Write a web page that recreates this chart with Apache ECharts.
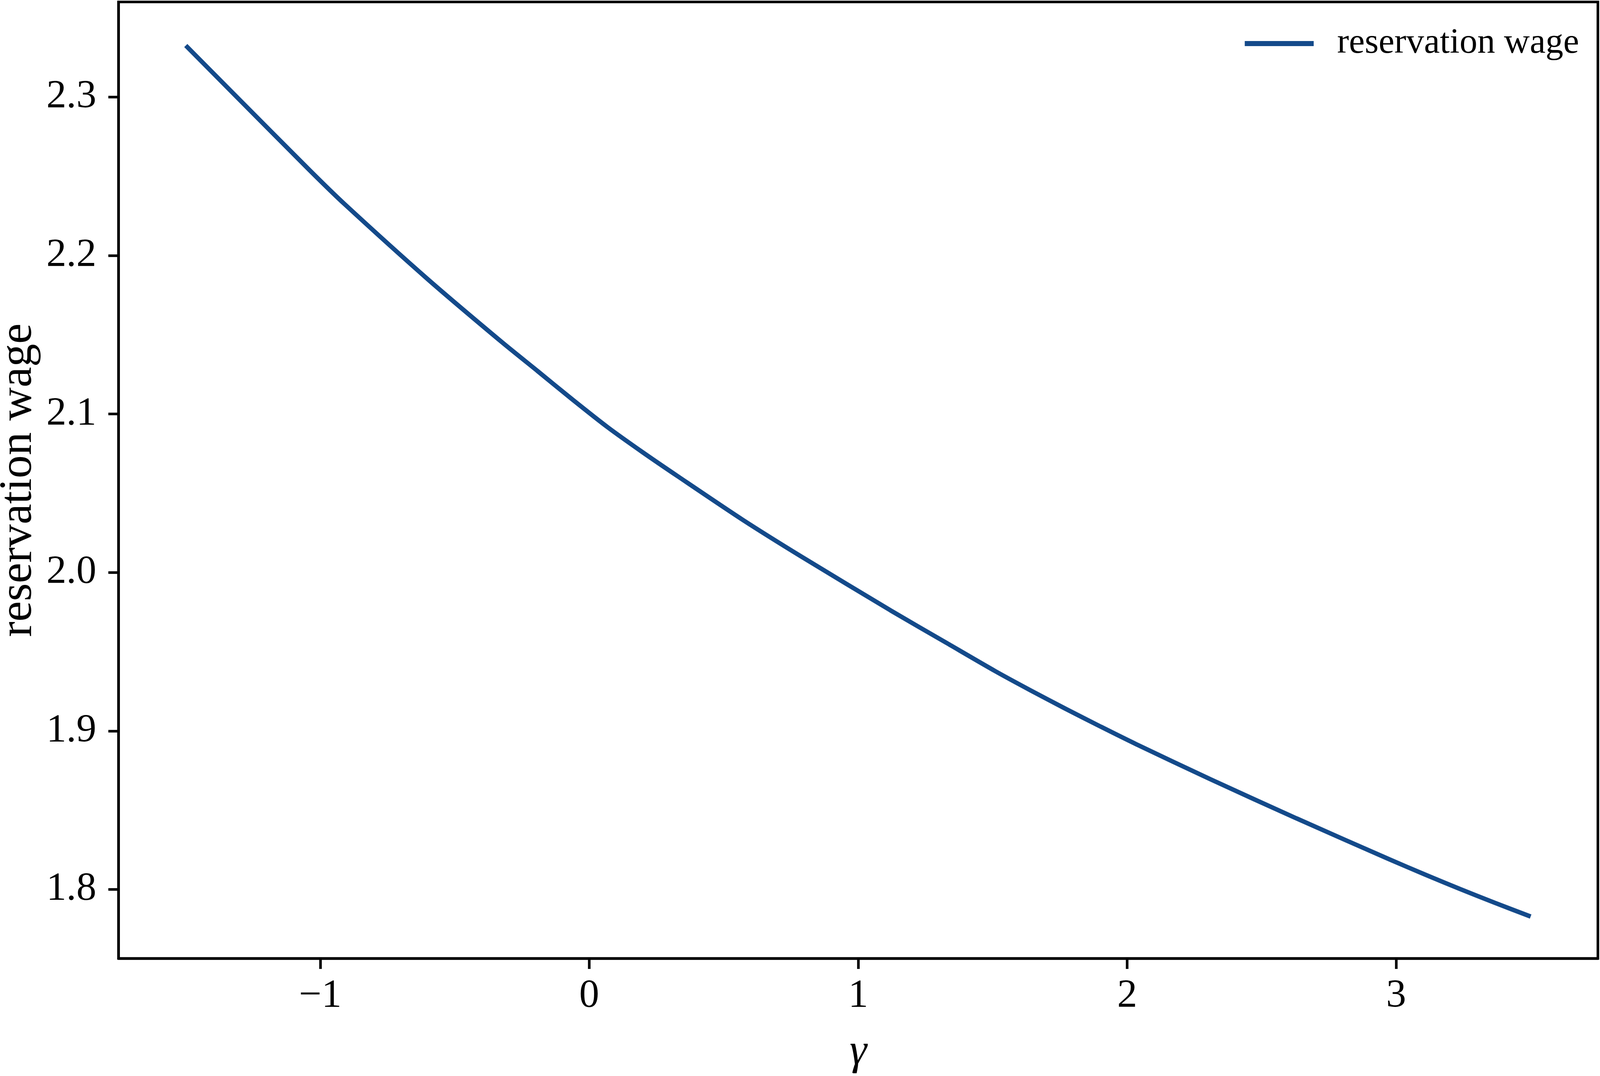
<!DOCTYPE html>
<html>
<head>
<meta charset="utf-8">
<script src="https://cdn.jsdelivr.net/npm/echarts@6/dist/echarts.min.js"></script>
<style>
html,body{margin:0;padding:0;background:#fff;overflow:hidden;}
#chart{width:100vw;height:100vh;}
</style>
</head>
<body>
<div id="chart"></div>
<script>
// values
var gamma = [-1.5, -1.32, -1.04, -0.91, -0.6, -0.323, -0.192, -0.062, 0.069, 0.2, 0.331, 0.57, 0.79, 1.12, 1.33, 1.509, 1.64, 1.771, 1.902, 2.033, 2.31, 2.63, 2.975, 3.106, 3.237, 3.368, 3.5];
var wage  = [2.3325, 2.3017, 2.2539, 2.2325, 2.1850, 2.1451, 2.1271, 2.1091, 2.0916, 2.0757, 2.0605, 2.0333, 2.0099, 1.9761, 1.9554, 1.9378, 1.9257, 1.9140, 1.9027, 1.8917, 1.8695, 1.8448, 1.8190, 1.8095, 1.8003, 1.7915, 1.7829];
var xTicks = [-1, 0, 1, 2, 3];
var yTicks = [1.8, 1.9, 2.0, 2.1, 2.2, 2.3];
var seriesName = 'reservation wage';
var xLabel = 'γ';
var yLabel = 'reservation wage';

var X_MIN = -1.75, X_MAX = 3.75, Y_MIN = 1.7565, Y_MAX = 2.36;
var FONT = 'Liberation Serif';
var points = gamma.map(function (g, i) { return [g, wage[i]]; });
// layout designed for 4549x2754, scaled to the actual viewport
var sx = window.innerWidth / 4549, sy = window.innerHeight / 2754;
var fs = Math.sqrt(sx * sy);
var LINE = '#144a8a';

var chart = echarts.init(document.getElementById('chart'));
chart.setOption({
  backgroundColor: '#ffffff',
  animation: false,
  grid: {
    left: 337 * sx, right: 6 * sx, top: 5 * sy, bottom: 301 * sy,
    outerBoundsMode: 'none', containLabel: false,
    show: true, borderColor: '#000', borderWidth: 7 * fs, backgroundColor: 'transparent'
  },
  legend: {
    data: [seriesName],
    left: 3539 * sx, top: 66 * sy,
    padding: 0,
    icon: 'rect',
    itemWidth: 196 * sx, itemHeight: 13 * sy,
    itemStyle: { color: LINE },
    textStyle: { fontFamily: FONT, fontSize: 96 * fs, color: '#000', padding: [0, 0, 0, 61 * sx] }
  },
  xAxis: {
    type: 'value', min: X_MIN, max: X_MAX,
    name: xLabel, nameLocation: 'middle', nameGap: 185 * sy,
    nameTextStyle: { fontFamily: FONT, fontSize: 118 * fs, fontStyle: 'italic', color: '#000' },
    axisLine: { show: true, onZero: false, lineStyle: { color: '#000', width: 7 * fs } },
    splitLine: { show: false },
    axisTick: { show: true, inside: false, length: 27 * sy, customValues: xTicks, lineStyle: { color: '#000', width: 7 * fs } },
    axisLabel: {
      customValues: xTicks, margin: 46 * sy, fontFamily: FONT, fontSize: 108 * fs, color: '#000',
      formatter: function (v) { return v < 0 ? '\u2212' + Math.abs(v) : String(v); }
    }
  },
  yAxis: {
    type: 'value', min: Y_MIN, max: Y_MAX,
    name: yLabel, nameLocation: 'middle', nameGap: 218 * sx,
    nameTextStyle: { fontFamily: FONT, fontSize: 118 * sy, color: '#000' },
    axisLine: { show: true, onZero: false, lineStyle: { color: '#000', width: 7 * fs } },
    splitLine: { show: false },
    axisTick: { show: true, inside: false, length: 29 * sx, customValues: yTicks, lineStyle: { color: '#000', width: 7 * fs } },
    axisLabel: {
      customValues: yTicks, margin: 63 * sx, fontFamily: FONT, fontSize: 108 * fs, color: '#000',
      formatter: function (v) { return v.toFixed(1); }
    }
  },
  series: [{
    name: seriesName,
    type: 'line',
    data: points,
    symbol: 'none',
    showSymbol: false,
    smooth: 0.25,
    lineStyle: { color: LINE, width: 12 * fs },
    itemStyle: { color: LINE },
    z: 3
  }]
});
</script>
</body>
</html>
